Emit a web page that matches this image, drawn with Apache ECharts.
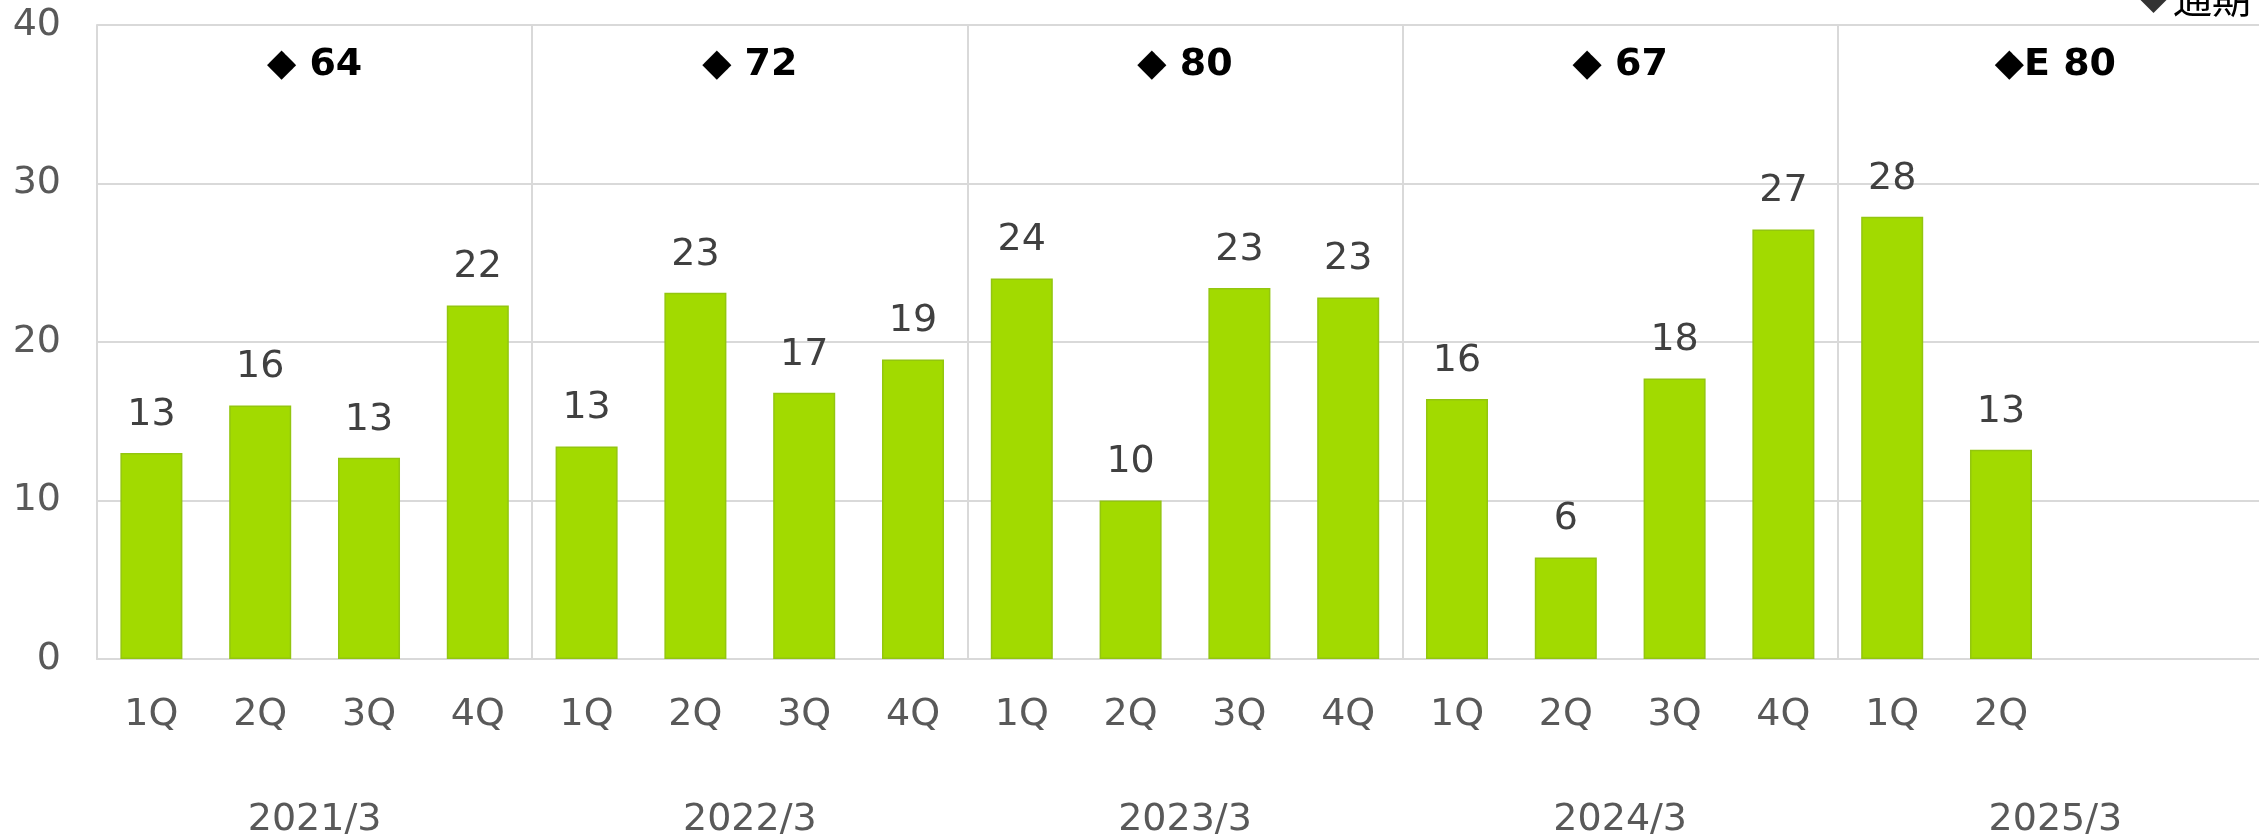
<!DOCTYPE html>
<html>
<head>
<meta charset="utf-8">
<script src="https://cdn.jsdelivr.net/npm/echarts@6/dist/echarts.min.js"></script>
<style>
  html, body { margin: 0; padding: 0; background: #fff; }
  #chart { width: 2259px; height: 839px; }
</style>
</head>
<body>
<div id="chart"></div>
<script>
// 四半期ラベル（2025/3 は 2Q まで）
const quarterLabels = ['1Q', '2Q', '3Q', '4Q', '1Q', '2Q', '3Q', '4Q', '1Q', '2Q', '3Q', '4Q',
  '1Q', '2Q', '3Q', '4Q', '1Q', '2Q', '', '']
const quarterValues = [13.0, 16.0, 12.7, 22.3, 13.4, 23.1, 16.8, 18.9, 24.0, 10.0, 23.4, 22.8,
  16.4, 6.4, 17.7, 27.1, 27.9, 13.2, null, null]
const fiscalYears = ['2021/3', '2022/3', '2023/3', '2024/3', '2025/3']
const annualTotals = [64, 72, 80, 67, 80]
const annualFlags = ['', '', '', '', 'E']
const yTicks = [0, 10, 20, 30, 40]

const chart = echarts.init(document.getElementById('chart'))

const font = 'DejaVu Sans'
const gridColor = '#d9d9d9'

const option = {
  animation: false,
  backgroundColor: '#fff',
  textStyle: { fontFamily: font },
  // 右端はキャンバスの外にはみ出す
  grid: { left: 97, top: 25, width: 2176, height: 634, outerBoundsMode: 'none' },
  legend: {
    data: [{ name: '通期', icon: 'diamond' }],
    left: 2134,
    top: -26,
    itemWidth: 29,
    itemHeight: 29,
    itemGap: 16,
    textStyle: { fontSize: 39, color: '#000', fontFamily: 'Noto Sans CJK JP' }
  },
  xAxis: [
    {
      type: 'category',
      data: quarterLabels,
      position: 'bottom',
      axisLine: { lineStyle: { color: gridColor, width: 2 } },
      axisTick: { show: false },
      axisLabel: { fontSize: 38, color: '#595959', margin: 37, interval: 0 },
      splitLine: { show: false }
    },
    {
      type: 'category',
      data: fiscalYears,
      position: 'bottom',
      axisLine: { show: false },
      axisTick: { show: false },
      axisLabel: { fontSize: 38, color: '#595959', margin: 142 },
      splitLine: { show: true, lineStyle: { color: gridColor, width: 2 } }
    },
    {
      // 通期の合計はグリッド上端の内側に表示
      type: 'category',
      data: annualTotals.map((v, i) => '◆' + annualFlags[i] + ' ' + v),
      position: 'top',
      axisLine: { show: false },
      axisTick: { show: false },
      axisLabel: { inside: true, fontSize: 38, fontWeight: 'bold', color: '#000', margin: 21 },
      splitLine: { show: false }
    }
  ],
  yAxis: {
    type: 'value',
    min: yTicks[0],
    max: yTicks[yTicks.length - 1],
    interval: 10,
    axisLine: { show: true, lineStyle: { color: gridColor, width: 2 } },
    axisTick: { show: false },
    axisLabel: { fontSize: 38, color: '#595959', margin: 36 },
    splitLine: { lineStyle: { color: gridColor, width: 2 } }
  },
  series: [
    {
      type: 'bar',
      xAxisIndex: 0,
      data: quarterValues,
      barWidth: '57%',
      itemStyle: { color: '#a2da00', borderColor: '#93c60f', borderWidth: 1.5 },
      label: {
        show: true,
        position: 'top',
        distance: 19,
        fontSize: 38,
        color: '#404040',
        formatter: p => Math.round(p.value)
      }
    },
    {
      name: '通期',
      type: 'scatter',
      xAxisIndex: 1,
      data: [],
      itemStyle: { color: '#000' }
    }
  ]
}

chart.setOption(option)
</script>
</body>
</html>
